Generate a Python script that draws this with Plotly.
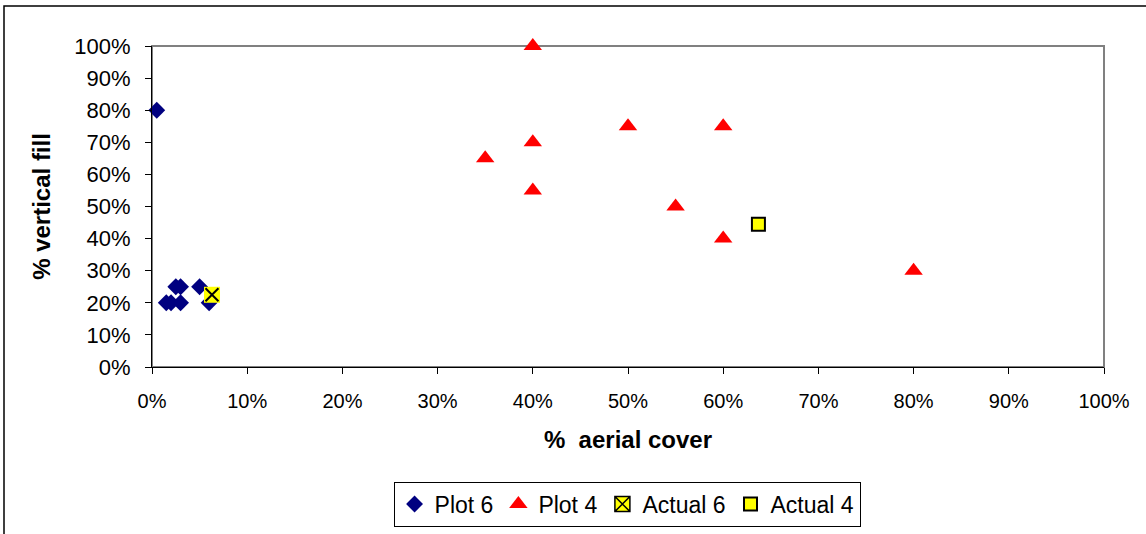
import plotly.graph_objects as go

# data (fractions)
plot6_x = [0.005, 0.015, 0.02, 0.03, 0.025, 0.03, 0.05, 0.06]
plot6_y = [0.80, 0.20, 0.20, 0.20, 0.25, 0.25, 0.25, 0.20]
plot4_x = [0.40, 0.35, 0.40, 0.40, 0.50, 0.55, 0.60, 0.60, 0.80]
plot4_y = [1.00, 0.65, 0.70, 0.55, 0.75, 0.50, 0.75, 0.40, 0.30]
actual6_x = [0.063]
actual6_y = [0.225]
actual4_x = [0.637]
actual4_y = [0.445]
tick_vals = [i / 10 for i in range(11)]
tick_text = [f"{i*10}%" for i in range(11)]

FONT = "Liberation Sans, Arial, sans-serif"

fig = go.Figure()
fig.add_trace(go.Scatter(x=plot6_x, y=plot6_y, mode="markers", name="Plot 6",
                         cliponaxis=False,
                         marker=dict(symbol="diamond", size=13, color="#000080")))
fig.add_trace(go.Scatter(x=plot4_x, y=plot4_y, mode="markers", name="Plot 4",
                         cliponaxis=False,
                         marker=dict(symbol="triangle-up", size=16, color="#ff0000")))
# Actual 6 drawn as yellow square with black cross on top
fig.add_trace(go.Scatter(x=actual6_x, y=actual6_y, mode="markers", name="Actual 6",
                         showlegend=False, legendgroup="a6", cliponaxis=False,
                         marker=dict(symbol="square", size=16, color="#ffff00")))
fig.add_trace(go.Scatter(x=actual6_x, y=actual6_y, mode="markers", name="Actual 6",
                         showlegend=False, legendgroup="a6", cliponaxis=False,
                         marker=dict(symbol="x-thin", size=13, color="black",
                                     line=dict(color="black", width=2))))
# legend entry for Actual 6
fig.add_trace(go.Scatter(x=[None], y=[None], mode="markers", name="Actual 6",
                         legendgroup="a6",
                         marker=dict(symbol="square-x", size=15, color="#ffff00",
                                     line=dict(color="black", width=1.5))))
fig.add_trace(go.Scatter(x=actual4_x, y=actual4_y, mode="markers", name="Actual 4",
                         cliponaxis=False,
                         marker=dict(symbol="square", size=13, color="#ffff00",
                                     line=dict(color="black", width=2))))

axis_common = dict(
    range=[0, 1], tickvals=tick_vals, ticktext=tick_text, automargin=False,
    showgrid=False, zeroline=False, showline=True, linecolor="black", linewidth=1,
    ticks="outside", ticklen=6, tickcolor="black", tickwidth=1,
)

fig.update_layout(
    width=1146, height=534,
    margin=dict(l=152, r=42, t=46, b=167, autoexpand=False),
    paper_bgcolor="white", plot_bgcolor="white",
    font=dict(family=FONT, color="black"),
    xaxis=dict(**axis_common,
               tickfont=dict(family=FONT, size=20, color="black"),
               title=dict(text="<b>%  aerial cover</b>", font=dict(family=FONT, size=24),
                          standoff=20)),
    yaxis=dict(**axis_common,
               tickfont=dict(family=FONT, size=22, color="black"),
               title=dict(text="<b>% vertical fill</b>", font=dict(family=FONT, size=24),
                          standoff=16)),
    legend=dict(orientation="h", x=0.499, xanchor="center", y=-0.357, yanchor="top",
                bordercolor="black", borderwidth=1, bgcolor="white",
                font=dict(family=FONT, size=23), itemwidth=30,
                tracegroupgap=0, traceorder="normal"),
    shapes=[
        dict(type="rect", xref="paper", yref="paper", x0=0, x1=1, y0=0, y1=1,
             line=dict(color="#808080", width=2), layer="below"),
        dict(type="rect", xref="paper", yref="paper",
             x0=(4 - 152) / 952, x1=(1160 - 152) / 952,
             y0=(367 - 560) / 321, y1=(367 - 6) / 321,
             line=dict(color="black", width=1.5), layer="below"),
    ],
)
fig.update_yaxes(ticklabelstandoff=10)
fig.update_xaxes(ticklabelstandoff=10)

fig.write_html("out.html")
